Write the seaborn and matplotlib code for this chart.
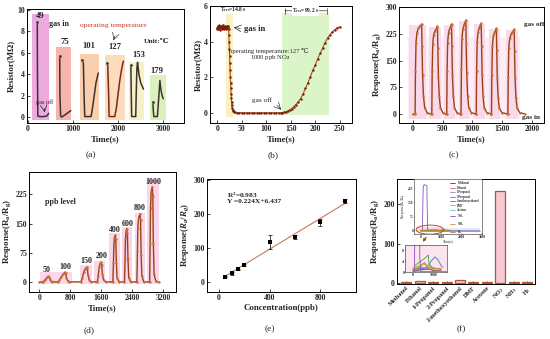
import matplotlib
matplotlib.use('Agg')
import matplotlib.pyplot as plt
import seaborn as sns
import pandas as pd
from matplotlib.patches import Rectangle, Ellipse, FancyArrowPatch

sns.set_theme(style='ticks')
plt.rcParams['font.family'] = ['Liberation Serif', 'DejaVu Serif', 'DejaVu Sans']
plt.rcParams['font.weight'] = 'bold'
plt.rcParams['mathtext.fontset'] = 'custom'
plt.rcParams['mathtext.rm'] = 'Liberation Serif:bold'
plt.rcParams['mathtext.it'] = 'Liberation Serif:italic:bold'
plt.rcParams['mathtext.bf'] = 'Liberation Serif:bold'
plt.rcParams['xtick.direction'] = 'in'
plt.rcParams['ytick.direction'] = 'in'

# ---------------- data ----------------
# (a) resistance at different operating temperatures
a_temps = ['49', '75', '101', '127', '153', '179']
a_t_49 = [208, 212, 220, 260, 350, 420, 445, 460]
a_r_49 = [8.8, 4.0, 0.1, 0.05, 0.05, 0.1, 0.25, 0.35]
a_t_75 = [705, 710, 725, 750, 820, 900, 950]
a_r_75 = [5.7, 2.0, 0.1, 0.0, 0.2, 0.45, 0.6]
a_t_101 = [1200, 1230, 1245, 1260, 1400, 1430, 1470, 1510, 1560]
a_r_101 = [5.3, 5.0, 2.0, 0.05, 0.05, 0.8, 2.0, 3.2, 4.1]
a_t_127 = [1748, 1770, 1790, 1800, 1925, 1960, 2000, 2040, 2080, 2115]
a_r_127 = [5.0, 4.8, 2.0, 0.05, 0.05, 0.8, 2.2, 3.5, 4.5, 5.2]
a_t_153 = [2282, 2290, 2300, 2390, 2400, 2415, 2430, 2460, 2500, 2540, 2562]
a_r_153 = [4.8, 2.5, 0.05, 0.05, 2.0, 4.5, 5.1, 4.0, 3.2, 2.8, 2.6]
a_t_179 = [2770, 2780, 2790, 2870, 2895, 2926, 2950, 2975, 3000]
a_r_179 = [1.4, 0.6, 0.05, 0.05, 1.5, 3.4, 2.5, 2.0, 1.7]
a_box_start = [90, 630, 1150, 1700, 2240, 2700]
a_box_end = [460, 965, 1575, 2150, 2565, 3050]
a_box_top = [9.6, 6.5, 5.9, 5.8, 5.1, 3.9]

# (b) single response / recovery at 127 C, 1000 ppb NO2
b_time = [-1, 0, 1, 2, 3, 4, 5, 6, 7, 8, 9, 10, 11, 12, 13, 14, 15, 16, 17, 18, 19, 20, 21, 22,
          23, 23.5, 24, 24.5, 25, 25.5, 26, 26.5, 27, 27.5, 28, 28.5, 29, 29.5, 30, 31, 32, 34, 37, 41,
          45, 50, 55, 60, 65, 70, 75, 80, 85, 90, 95, 100, 105, 110, 115, 120, 125, 130,
          133, 136, 140, 144, 148, 152, 156, 160, 165, 170, 175, 180, 185, 190, 195, 200,
          205, 210, 215, 220, 225, 230, 235, 240, 245, 250]
b_res = [4.78, 4.70, 4.86, 4.74, 4.92, 4.80, 4.68, 4.85, 4.76, 4.90, 4.72, 4.83, 4.79, 4.95, 4.70, 4.84,
         4.77, 4.88, 4.73, 4.82, 4.86, 4.75, 4.90, 4.80,
         4.7, 4.4, 4.0, 3.6, 3.2, 2.8, 2.4, 2.0, 1.7, 1.4, 1.1, 0.85, 0.6, 0.45, 0.3, 0.2, 0.12, 0.07, 0.04, 0.03,
         0.03, 0.02, 0.02, 0.02, 0.02, 0.02, 0.02, 0.02, 0.02, 0.02, 0.02, 0.02, 0.02, 0.02, 0.02, 0.02, 0.02, 0.02,
         0.03, 0.05, 0.08, 0.13, 0.19, 0.26, 0.36, 0.48, 0.62, 0.82, 1.08, 1.39, 1.7, 2.05, 2.4, 2.7,
         3.05, 3.35, 3.65, 3.95, 4.2, 4.4, 4.55, 4.68, 4.78, 4.84]

# (c) repeatability, 7 cycles
c_time = [0, 30, 40, 46, 55, 70, 95, 120, 150, 156, 165, 180, 200, 240, 300,
          320, 326, 335, 350, 375, 400, 415, 421, 430, 445, 465, 505, 560,
          570, 576, 585, 600, 620, 640, 650, 656, 665, 680, 700, 740, 800,
          810, 816, 825, 840, 860, 880, 890, 896, 905, 920, 940, 980, 1060,
          1065, 1071, 1080, 1095, 1115, 1135, 1148, 1154, 1163, 1178, 1198, 1240, 1315,
          1320, 1326, 1335, 1350, 1370, 1390, 1402, 1408, 1417, 1432, 1452, 1495, 1590,
          1595, 1601, 1610, 1625, 1650, 1680, 1700, 1706, 1715, 1730, 1750, 1795, 1880]
c_resp = [0, 0, 2, 120, 200, 228, 240, 246, 252, 190, 110, 50, 18, 4, 0,
          1, 120, 195, 222, 234, 240, 246, 185, 105, 48, 17, 4, 0,
          1, 120, 200, 228, 240, 246, 252, 190, 110, 50, 18, 4, 0,
          1, 125, 210, 238, 250, 258, 263, 195, 115, 52, 18, 4, 0,
          1, 120, 202, 230, 242, 249, 254, 190, 110, 50, 18, 4, 0,
          1, 110, 190, 218, 228, 235, 240, 180, 100, 45, 16, 4, 0,
          1, 105, 185, 212, 224, 232, 237, 178, 100, 45, 16, 4, 0]
c_box_start = [-60, 280, 530, 770, 1025, 1280, 1555]
c_box_end = [215, 470, 710, 950, 1210, 1465, 1770]
c_box_top = [250, 245, 250, 262, 252, 238, 235]

# (d) dynamic response to NO2 concentrations (ppb)
d_levels = ['50', '100', '150', '200', '400', '600', '800', '1000']
d_label_t = [190, 663, 1223, 1610, 1953, 2297, 2598, 2943]
d_label_v = [32, 38, 54, 66, 134, 150, 191, 256]
d_time = [0, 80, 100, 140, 180, 210, 233, 255, 275, 300, 340,
          480, 520, 570, 620, 663, 680, 700, 730, 780,
          1080, 1110, 1150, 1190, 1225, 1240, 1260, 1290, 1340,
          1500, 1520, 1550, 1575, 1595, 1610, 1630, 1660, 1710,
          1900, 1915, 1925, 1940, 1960, 1975, 1990, 2010, 2060,
          2200, 2215, 2225, 2240, 2260, 2275, 2290, 2310, 2360,
          2520, 2535, 2545, 2565, 2600, 2615, 2630, 2650, 2700,
          2850, 2862, 2872, 2890, 2918, 2932, 2945, 2965, 3010, 3100]
d_resp = [0, 0.5, 1, 5, 10, 13, 15, 14, 7, 3, 1,
          0.5, 5, 14, 21, 25.6, 24, 12, 4, 1,
          0.5, 10, 27, 35, 38.5, 36, 18, 6, 1,
          0.5, 15, 40, 48, 51, 45, 20, 6, 1,
          0.5, 50, 95, 113, 120, 110, 50, 10, 1,
          0.5, 60, 110, 130, 137, 125, 60, 12, 1,
          0.5, 80, 140, 165, 175, 160, 70, 15, 1,
          0.5, 100, 190, 230, 244, 220, 100, 20, 2, 0]
d_box_start = [20, 1050, 1420, 1800, 2130, 2460, 2790]
d_box_end = [840, 1350, 1690, 2090, 2400, 2720, 3100]
d_box_top = [25, 43, 55, 125, 141, 178, 262]

# (e) calibration
e_conc = [50, 100, 150, 200, 400, 600, 800, 1000]
e_resp = [15, 25, 37, 50, 117, 133, 175, 238]
e_err = [2, 4, 2, 3, 21, 6, 10, 7]

# (f) selectivity
f_gas = ['Methanol', 'Ethanol', '1-Propanol', '2-Propanol', '2-methoxyethanol',
         'DMF', 'Acetone', 'NO$_2$', 'NH$_3$', 'H$_2$']
f_resp = [1.5, 5, 1.5, 1.5, 8, 1.5, 3, 235, 1.5, 1.5]
# inset traces (time, response)
f_in_t = {
    'Methanol': [0, 200, 600, 800, 1000, 1400],
    'Ethanol': [0, 300, 500, 600, 700, 1400],
    '1-Propanol': [0, 200, 1400],
    '2-Propanol': [100, 400, 700, 765, 800, 1000, 1400],
    '2-methoxyethanol': [0, 700, 900, 1100, 1250, 1435, 1500],
    'DMF': [0, 300, 600, 800, 1000, 1400],
    'Acetone': [0, 200, 1400, 2900],
    'NO$_2$': [0, 80, 120, 160, 300, 320, 340, 400, 2900],
    'NH$_3$': [0, 300, 500, 700, 900, 1400],
    'H$_2$': [0, 400, 800, 1400],
}
f_in_v = {
    'Methanol': [0.5, 0.6, 1.0, 1.2, 0.6, 0.5],
    'Ethanol': [0.4, 1.0, 3.0, 3.5, 1.0, 0.5],
    '1-Propanol': [0.3, 0.3, 0.3],
    '2-Propanol': [2.5, 4.0, 5.8, 6.3, 3.0, 1.5, 1.0],
    '2-methoxyethanol': [1.0, 1.5, 4.0, 5.6, 4.5, 2.0, 1.8],
    'DMF': [1.5, 2.5, 3.0, 2.0, 1.5, 1.2],
    'Acetone': [0.5, 0.5, 0.5, 0.5],
    'NO$_2$': [0, 0, 230, 245, 240, 100, 5, 0, 0],
    'NH$_3$': [1.0, 2.0, 3.2, 2.5, 1.5, 1.0],
    'H$_2$': [1.2, 1.8, 1.5, 1.2],
}
f_in_colors = ['#5a3a2a', '#c060a0', '#8c8cc8', '#40a040', '#3080c0',
               '#b0c020', '#60c0e0', '#8a50c0', '#e09030', '#a09030']

# ---------------- figure ----------------
W, H = 550, 339
fig = plt.figure(figsize=(5.5, 3.39), dpi=100)


def box(l, t, r, b):
    return [l / W, 1 - b / H, (r - l) / W, (b - t) / H]


def style(ax):
    for s in ax.spines.values():
        s.set_linewidth(0.7)
        s.set_color('black')
    ax.tick_params(labelsize=5.6, length=2, width=0.6, pad=1.5)


LAB = dict(fontsize=6.4, fontweight='bold', labelpad=1.5)
line_col = '#9a4018'
dot_col = '#c87038'

# ---- (a)
ax = fig.add_axes(box(27, 9, 184, 123))
a_colors = ['#eeaade', '#f6b4aa', '#f9cfae', '#fcdcbc', '#f7f1c6', '#dcf0be']
for x0, x1, top, c in zip(a_box_start, a_box_end, a_box_top, a_colors):
    ax.add_patch(Rectangle((x0, -0.25), x1 - x0, top + 0.25, color=c, lw=0, zorder=0))
a_df = pd.concat([
    pd.DataFrame({'t': t, 'R': r, 'temp': k})
    for k, t, r in zip(a_temps, [a_t_49, a_t_75, a_t_101, a_t_127, a_t_153, a_t_179],
                       [a_r_49, a_r_75, a_r_101, a_r_127, a_r_153, a_r_179])])
sns.lineplot(data=a_df[a_df.temp != '127'], x='t', y='R', units='temp', estimator=None,
             sort=False, color='#3c3232', lw=1.1, ax=ax)
sns.lineplot(data=a_df[a_df.temp == '127'], x='t', y='R', estimator=None,
             sort=False, color='#7a2a10', lw=1.1, ax=ax)
sns.scatterplot(data=a_df.groupby('temp', sort=False).head(1), x='t', y='R',
                color='#3c3232', s=5, ax=ax, zorder=3)
for k, x, y in zip(a_temps, [270, 815, 1356, 1926, 2467, 2867], [9.4, 7.0, 6.6, 6.55, 5.8, 4.3]):
    ax.text(x, y, k, fontsize=6.2, ha='center', va='center')
ax.text(700, 8.7, 'gas in', fontsize=5.8, ha='center', va='center')
ax.text(370, 1.4, 'gas off', fontsize=4.5, fontweight='normal', ha='center', va='center')
ax.annotate('', xy=(380, 0.2), xytext=(350, 1.1),
            arrowprops=dict(arrowstyle='->', lw=0.4, color='black'))
ax.text(1890, 8.5, 'operating temperature', fontsize=5.4, fontweight='normal',
        color='#c83c20', ha='center', va='center')
ax.annotate('', xy=(1880, 6.9), xytext=(1950, 7.8),
            arrowprops=dict(arrowstyle='->', lw=0.4, color='black'))
ax.text(2850, 7.0, 'Unit:\u2103', fontsize=5.4, ha='center', va='center')
ax.set_xlim(-20, 3460)
ax.set_ylim(-0.55, 10.05)
ax.set_xticks([0, 1000, 2000, 3000])
ax.set_yticks([0, 2, 4, 6, 8, 10])
ax.set_xlabel('Time(s)', **LAB)
ax.set_ylabel('Resistor(M\u03a9)', **LAB)
style(ax)

# ---- (b)
ax = fig.add_axes(box(210, 6, 352, 123))
ax.add_patch(Rectangle((18, -0.2), 14, 5.75, color='#fbf0c0', lw=0, zorder=0))
ax.add_patch(Rectangle((132, -0.1), 97, 5.7, color='#dbf5c8', lw=0, zorder=0))
sns.lineplot(x=b_time, y=b_res, sort=False, color='#a0522d', lw=0.8, ax=ax)
sns.scatterplot(x=b_time, y=b_res, color='#7a1c08', s=3, linewidth=0, ax=ax, zorder=3)
ax.text(32, 5.8, 'T$_{\\mathrm{res}}$=14.8 s', fontsize=4, ha='center', va='center')
ax.annotate('', xy=(132, 5.73), xytext=(229, 5.73),
            arrowprops=dict(arrowstyle='|-|', lw=0.4, color='black', mutation_scale=2))
ax.text(180, 5.73, 'T$_{\\mathrm{rec}}$=99.2 s', fontsize=4, ha='center', va='center',
        bbox=dict(facecolor='white', edgecolor='none', pad=0.3))
ax.text(55, 4.72, 'gas in', fontsize=6.2, ha='left', va='center')
ax.annotate('', xy=(28, 4.8), xytext=(53, 4.74),
            arrowprops=dict(arrowstyle='->', lw=0.4, color='black'))
ax.text(105, 3.5, 'operating temperature:127 \u2103', fontsize=4.8, fontweight='normal',
        ha='center', va='center')
ax.text(108, 3.1, '1000 ppb NO$_2$', fontsize=4.8, fontweight='normal', ha='center', va='center')
ax.text(91, 0.73, 'gas off', fontsize=5.2, fontweight='normal', ha='center', va='center')
ax.annotate('', xy=(134, 0.08), xytext=(118, 0.55),
            arrowprops=dict(arrowstyle='->', lw=0.4, color='black'))
ax.set_xlim(-15, 275)
ax.set_ylim(-0.55, 6.0)
ax.set_xticks([0, 50, 100, 150, 200, 250])
ax.set_yticks([0, 2, 4, 6])
ax.set_xlabel('Time(s)', **LAB)
ax.set_ylabel('Resistor(M\u03a9)', **LAB)
style(ax)

# ---- (c)
ax = fig.add_axes(box(399, 7, 544, 123))
ax.add_patch(Rectangle((-80, -15), 1880, 230, color='#fdeef5', lw=0, zorder=0))
for x0, x1, top in zip(c_box_start, c_box_end, c_box_top):
    ax.add_patch(Rectangle((x0, -15), x1 - x0, top + 15, color='#f9d9ea', lw=0, zorder=0))
sns.lineplot(x=c_time, y=c_resp, sort=False, color=line_col, lw=1.0, ax=ax)
sns.scatterplot(x=c_time, y=c_resp, color=dot_col, s=3, linewidth=0, ax=ax, zorder=3)
ax.text(1860, 252, 'gas off', fontsize=5.2, ha='left', va='center')
ax.text(1830, -9, 'gas in', fontsize=5.2, ha='left', va='center')
ax.set_xlim(-230, 2200)
ax.set_ylim(-25, 300)
ax.set_xticks([0, 500, 1000, 1500, 2000])
ax.set_yticks([0, 75, 150, 225, 300])
ax.set_xlabel('Time(s)', **LAB)
ax.set_ylabel('Response(R$_\\mathrm{a}$/R$_\\mathrm{g}$)', **LAB)
style(ax)

# ---- (d)
ax = fig.add_axes(box(29, 172, 176, 292))
for x0, x1, top in zip(d_box_start, d_box_end, d_box_top):
    ax.add_patch(Rectangle((x0, -5), x1 - x0, top + 5, color='#fbd6ea', lw=0, zorder=0))
sns.lineplot(x=d_time, y=d_resp, sort=False, color=line_col, lw=1.0, ax=ax)
sns.scatterplot(x=d_time, y=d_resp, color=dot_col, s=3, linewidth=0, ax=ax, zorder=3)
for k, x, y in zip(d_levels, d_label_t, d_label_v):
    ax.text(x, y, k, fontsize=5.8, ha='center', va='center')
ax.text(150, 204, 'ppb level', fontsize=5.8, ha='left', va='center')
ax.set_xlim(-265, 3530)
ax.set_ylim(-25, 282)
ax.set_xticks([0, 800, 1600, 2400, 3200])
ax.set_yticks([0, 75, 150, 225])
ax.set_xlabel('Time(s)', **LAB)
ax.set_ylabel('Response(R$_\\mathrm{a}$/R$_\\mathrm{g}$)', **LAB)
style(ax)

# ---- (e)
ax = fig.add_axes(box(207, 179, 356, 292))
sns.regplot(x=e_conc, y=e_resp, scatter=False, ci=None, truncate=True,
            line_kws=dict(color='#c8785a', lw=0.8), ax=ax)
ax.errorbar(e_conc, e_resp, yerr=e_err, fmt='none', ecolor='black', elinewidth=0.5,
            capsize=1.5, capthick=0.5)
sns.scatterplot(x=e_conc, y=e_resp, marker='s', color='black', s=5, linewidth=0, ax=ax, zorder=3)
ax.text(60, 256, 'R$^2$=0.983', fontsize=5.3, ha='left', va='center')
ax.text(60, 238, 'Y =0.224X+6.437', fontsize=5.3, ha='left', va='center')
ax.set_xlim(-95, 1085)
ax.set_ylim(-30, 303)
ax.set_xticks([0, 400, 800])
ax.set_yticks([0, 100, 200, 300])
ax.set_xlabel('Concentration(ppb)', **LAB)
ax.set_ylabel('Response($R_a$/$R_g$)', **LAB)
style(ax)

# ---- (f)
ax = fig.add_axes(box(397, 179, 535, 284))
sns.barplot(x=f_gas, y=f_resp, color='#f7c9d4', edgecolor='#b5532f', linewidth=0.9,
            width=0.75, saturation=1, ax=ax)
ax.set_ylim(-3, 265)
ax.set_yticks([0, 100, 200])
ax.set_xlim(-0.7, 9.6)
ax.tick_params(axis='x', rotation=45)
for lab in ax.get_xticklabels():
    lab.set_ha('right')
    lab.set_rotation_mode('anchor')
ax.set_xlabel('')
ax.set_ylabel('Response(R$_\\mathrm{a}$/R$_\\mathrm{g}$)', **LAB)
style(ax)
ax.tick_params(axis='x', labelsize=4.4, pad=1)

# inset: full traces
ins = fig.add_axes(box(414, 179, 482, 234))
ins.add_patch(Rectangle((-250, -8), 1350, 28, color='#fbd6e6', lw=0, zorder=0))
ins.add_patch(Rectangle((1100, -8), 1800, 24, color='#d6f2f6', lw=0, zorder=0))
for g, c in zip(f_gas, f_in_colors):
    sns.lineplot(x=f_in_t[g], y=f_in_v[g], sort=False, color=c, lw=0.6, ax=ins, label=g)
ins.add_patch(Ellipse((450, 6), 1350, 48, fill=False, edgecolor='#c0501a', lw=0.7, zorder=4))
ins.legend(fontsize=2.1, loc='upper right', frameon=False, handlelength=1.6,
           labelspacing=0.15, borderpad=0.3)
ins.set_xlim(-330, 3000)
ins.set_ylim(-17, 275)
ins.set_xticks([0, 1000, 2000, 3000])
ins.set_yticks([0, 75, 150, 225])
ins.set_xlabel('Time(s)', fontsize=2.5, labelpad=0.5)
ins.set_ylabel('Response(R$_\\mathrm{a}$/R$_\\mathrm{g}$)', fontsize=2.5, labelpad=0.5)
for s in ins.spines.values():
    s.set_linewidth(0.4)
ins.tick_params(labelsize=2.6, length=1, width=0.3, pad=0.5)

# inset: zoom on weak responses
ins2 = fig.add_axes(box(405, 245, 447, 272))
ins2.set_facecolor('#fce4ee')
for g, c in zip(f_gas, f_in_colors):
    sns.lineplot(x=f_in_t[g], y=f_in_v[g], sort=False, color=c, lw=0.6, ax=ins2)
ins2.set_xlim(-400, 1700)
ins2.set_ylim(0, 10)
ins2.set_xticks([0, 1000])
ins2.set_yticks([0, 4, 8])
for s in ins2.spines.values():
    s.set_linewidth(0.4)
ins2.tick_params(labelsize=2.8, length=1, width=0.3, pad=0.5)

fig.add_artist(FancyArrowPatch((428 / W, 1 - 235 / H), (421 / W, 1 - 244 / H),
                               transform=fig.transFigure, arrowstyle='-|>',
                               mutation_scale=4, lw=0.8, color='#b0441a'))

# panel captions
for lab, x, y in [('(a)', 91, 155), ('(b)', 273, 155), ('(c)', 454, 155),
                  ('(d)', 89, 330), ('(e)', 270, 329), ('(f)', 461, 329)]:
    fig.text(x / W, 1 - y / H, lab, fontsize=6.8, fontweight='normal', ha='center', va='center')

fig.savefig('out.png', dpi=100)
